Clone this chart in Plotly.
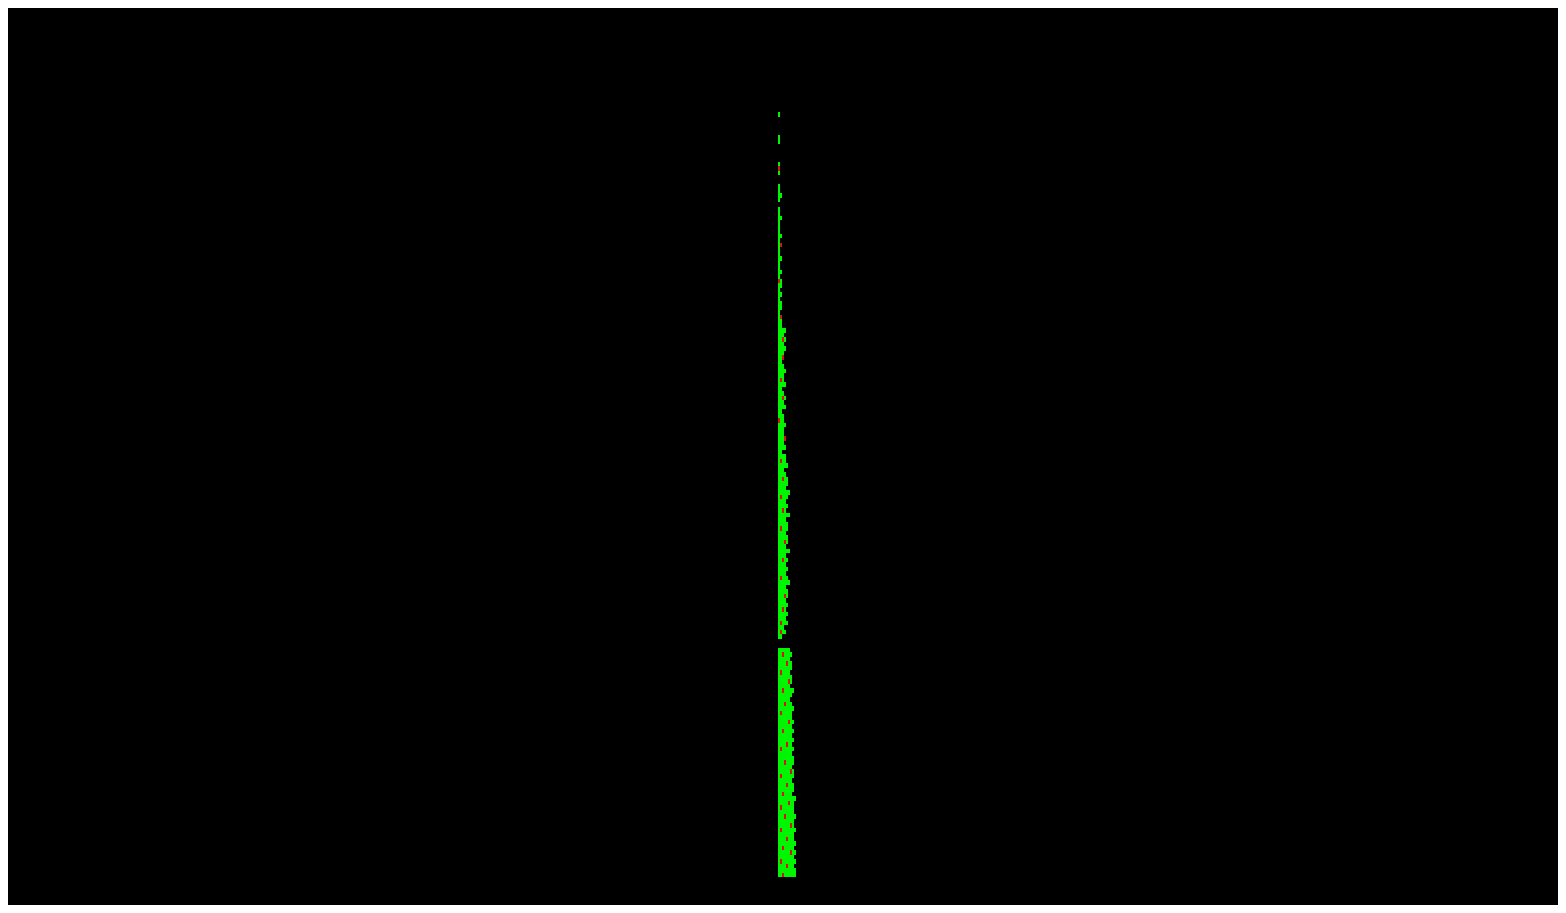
import plotly.graph_objects as go

# Each row: one line of cells, left to right. G = green, R = red, . = empty
rows = [
    "G........", ".........", ".........", ".........", ".........",
    "G........", "G........", ".........", ".........", ".........",
    ".........", "G........", "R........", "G........", ".........",
    ".........", "G........", "G........", "GG.......", "G........",
    ".........", "G........", "G........", "GG.......", "G........",
    "G........", "G........", "GG.......", "G........", "GR.......",
    "G........", "G........", "GG.......", "G........", "G........",
    "GG.......", "G........", "RG.......", "GG.......", "G........",
    "GG.......", "G........", "GG.......", "GG.......", "G........",
    "GR.......", "GG.......", "GG.......", "GGGG.....", "GGG......",
    "GGRG.....", "GGG......", "GGGG.....", "GGG......", "GGR......",
    "GG.......", "GGG......", "GGGG.....", "GGG......", "GRG......",
    "GGGG.....", "GG.......", "GGG......", "GGRG.....", "GGG......",
    "GGGG.....", "GG.......", "GGG......", "RGG......", "GGGG.....",
    "GGG......", "GGG......", "GGGR.....", "GGG......", "GGGG.....",
    "GG.......", "GGGG.....", "GRGG.....", "GGGGG....", "GGG......",
    "GGGG.....", "GGRGG....", "GGGGG....", "GGGG.....", "GGGGGG...",
    "GRGGG....", "GGGG.....", "GGGGG....", "GGRG.....", "GGGGGG...",
    "GGGG.....", "GGGGG....", "GRGGG....", "GGGG.....", "GGGGG....",
    "GGGRG....", "GGGG.....", "GGGGGG...", "GGGG.....", "GGRGG....",
    "GGGG.....", "GGGGG....", "GGGG.....", "GRGGG....", "GGGGGG...",
    "GGGG.....", "GGGGG....", "GGGRG....", "GGGG.....", "GGGGG....",
    "GGRG.....", "GGGGG....", "GGGG.....", "GRGGG....", "GGG......",
    "GRGG.....", "GG.......", ".........", ".........", "GGGGGG...",
    "GGRGGGG..", "GGGGGG...", "GGGGRGG..", "GGGGGGG..", "GRGGGG...",
    "GGGGGGG..", "GGGGGRG..", "GGGGGG...", "GGRGGGGG.", "GGGGGGG..",
    "GGGGGG...", "GGGRGGG..", "GGGGGGGG.", "GRGGGGG..", "GGGGGGG..",
    "GGGGGRGG.", "GGGGGGG..", "GGRGGGGG.", "GGGGGGG..", "GGGGGGGG.",
    "GGGGRGG..", "GRGGGGGG.", "GGGGGGG..", "GGGGGGGG.", "GGGRGGGG.",
    "GGGGGGG..", "GGGGGGRG.", "GRGGGGGG.", "GGGGGGG..", "GGGGRGGG.",
    "GGGGGGGG.", "GGRGGGG..", "GGGGGGGGG", "GGGGGRGG.", "GRGGGGGG.",
    "GGGGGGGG.", "GGGRGGGGG", "GGGGGGGG.", "GGGGGGRG.", "GRGGGGGGG",
    "GGGGGGGG.", "GGGGRGGG.", "GGGGGGGGG", "GGRGGGGG.", "GGGGGGRGG",
    "GGGGGGGG.", "GRGGGGGGG", "GGGGRGGG.", "GGGGGGGGG", "GGRGGGGGG",
]

code = {"G": 1, "R": 0, ".": None}
z = [[code[c] for c in r] for r in rows]

fig = go.Figure(
    go.Heatmap(
        z=z,
        colorscale=[[0, "rgb(215,20,20)"], [0.5, "rgb(215,20,20)"],
                    [0.5, "rgb(0,245,0)"], [1, "rgb(0,245,0)"]],
        zmin=0, zmax=1,
        showscale=False,
        xgap=0, ygap=0,
    )
)

W, H = 1550, 897
fig.update_layout(
    width=W, height=H, autosize=False,
    paper_bgcolor="black", plot_bgcolor="black",
    margin=dict(l=770, r=W - 788, t=104, b=H - 869, pad=0),
    xaxis=dict(visible=False, showgrid=False, zeroline=False),
    yaxis=dict(visible=False, showgrid=False, zeroline=False, autorange="reversed"),
    showlegend=False,
)

fig.write_html("out.html")
